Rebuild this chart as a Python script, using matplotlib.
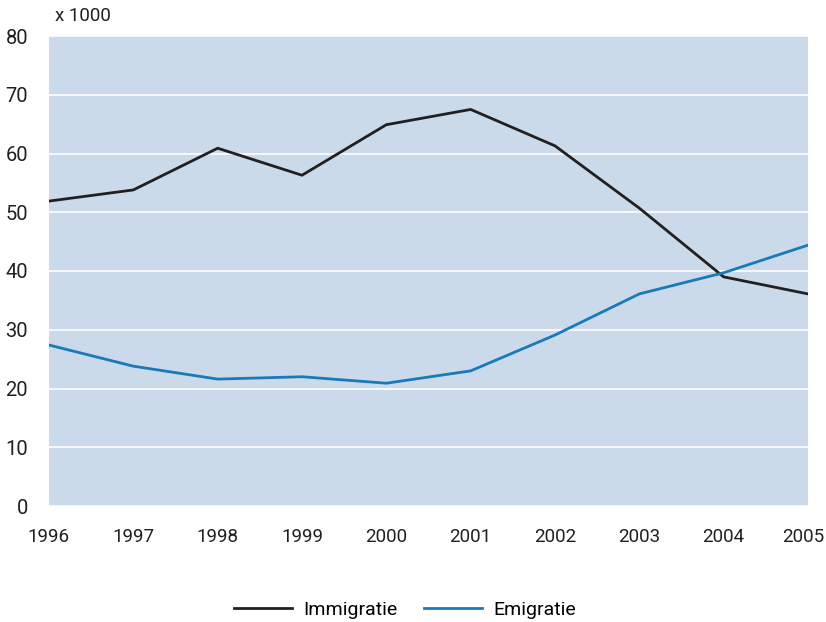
import matplotlib
matplotlib.use("Agg")
import matplotlib.pyplot as plt
import matplotlib.transforms as mtransforms

years = [1996, 1997, 1998, 1999, 2000, 2001, 2002, 2003, 2004, 2005]
immigratie = [51.9, 53.8, 60.9, 56.3, 64.9, 67.5, 61.3, 50.7, 39.0, 36.1]
emigratie = [27.4, 23.8, 21.6, 22.0, 20.9, 23.0, 29.1, 36.1, 39.7, 44.4]

plt.rcParams['font.family'] = ['Roboto', 'DejaVu Sans']

fig = plt.figure(figsize=(8.26, 6.22), dpi=100)
ax = fig.add_axes([49/826, 1 - 506/622, (808 - 49)/826, (506 - 36)/622])
ax.set_facecolor('#cbdaea')

ax.plot(years, immigratie, color='#231f20', lw=2, label='Immigratie')
ax.plot(years, emigratie, color='#1a7ab8', lw=2, label='Emigratie')

ax.set_xlim(1996, 2005)
ax.set_ylim(0, 80)
ax.set_xticks(years)
ax.set_yticks(range(0, 81, 10))
ax.grid(axis='y', color='white', lw=1.2)
ax.set_axisbelow(True)
for s in ax.spines.values():
    s.set_visible(False)
ax.tick_params(length=0, labelsize=13.5, colors='#231f20')
ax.tick_params(axis='y', labelsize=14.5, pad=15)
ax.tick_params(axis='x', pad=16)

# last year label sits a bit inside the figure edge
last = ax.get_xticklabels()[-1]
last.set_transform(last.get_transform() + mtransforms.ScaledTranslation(-5/100, 0, fig.dpi_scale_trans))

fig.text(55/826, 1 - 16/622, 'x 1000', fontsize=13.5, color='#231f20', va='center')

fig.legend(loc='center', bbox_to_anchor=(405/826, 1 - 610/622), ncol=2, frameon=False,
           fontsize=14, handlelength=3.0, columnspacing=1.35, handletextpad=0.57)

fig.savefig('out.png', dpi=100)
